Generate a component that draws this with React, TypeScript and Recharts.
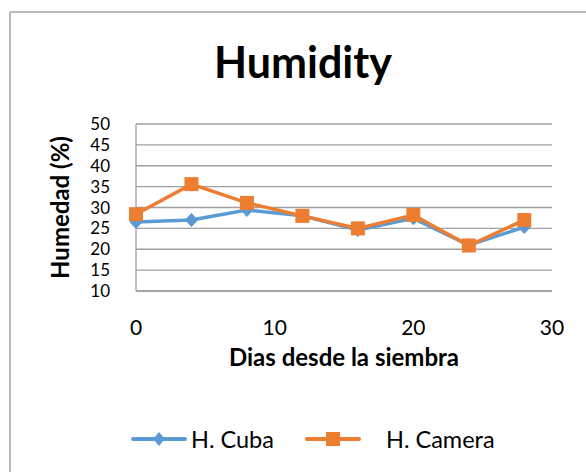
import React from 'react';
import { LineChart, Line, XAxis, YAxis, CartesianGrid, Legend } from 'recharts';

const days = [0, 4, 8, 12, 16, 20, 24, 28];
const cuba = [26.5, 27, 29.4, 28, 24.6, 27.4, 21, 25.3];
const camera = [28.4, 35.6, 31.1, 28, 25, 28.2, 20.9, 27];
const xTicks = [0, 10, 20, 30];
const yTicks = [10, 15, 20, 25, 30, 35, 40, 45, 50];
const seriesNames = ['H. Cuba', 'H. Camera'];
const title = 'Humidity';
const xTitle = 'Dias desde la siembra';
const yTitle = 'Humedad (%)';

const data = days.map((d, i) => ({ day: d, cuba: cuba[i], camera: camera[i] }));

const BLUE = '#5B9BD5';
const ORANGE = '#ED7D31';
const GRID = '#a0a0a0';
const FONT = 'Lato, "Open Sans", sans-serif';

const Diamond = (props: any) => {
  const { cx, cy } = props;
  if (cx == null || cy == null) return null;
  const r = 6.5;
  return <polygon points={`${cx},${cy - r} ${cx + r - 0.5},${cy} ${cx},${cy + r} ${cx - r + 0.5},${cy}`} fill={BLUE} stroke={BLUE} strokeWidth={1} />;
};

const Square = (props: any) => {
  const { cx, cy } = props;
  if (cx == null || cy == null) return null;
  const h = 7;
  return <rect x={cx - h} y={cy - h} width={2 * h} height={2 * h} fill={ORANGE} />;
};

const LegendContent = (props: any) => {
  const items = [...(props.payload || [])].sort(
    (a: any, b: any) => seriesNames.indexOf(a.value) - seriesNames.indexOf(b.value)
  );
  return (
    <div style={{ display: 'flex', alignItems: 'center', fontFamily: FONT, fontSize: 23.5, color: '#000' }}>
      {items.map((p: any, i: number) => {
        const isCuba = p.dataKey === 'cuba';
        return (
          <div key={i} style={{ display: 'flex', alignItems: 'center', marginLeft: i === 0 ? 0 : 31 }}>
            <svg width={56} height={20} style={{ display: 'block' }}>
              <line x1={2} y1={10} x2={54} y2={10} stroke={p.color} strokeWidth={4} strokeLinecap="round" />
              {isCuba ? (
                <polygon points="28,3 34,10 28,17 22,10" fill={p.color} />
              ) : (
                <rect x={21} y={3} width={14} height={14} fill={p.color} />
              )}
            </svg>
            <span style={{ marginLeft: isCuba ? 4 : 25, lineHeight: '24px' }}>{p.value}</span>
          </div>
        );
      })}
    </div>
  );
};

export default function App() {
  return (
    <div style={{ position: 'absolute', left: 0, top: 0, width: 586, height: 472, overflow: 'hidden', background: '#fff' }}>
      <svg width={586} height={472} style={{ position: 'absolute', left: 0, top: 0, pointerEvents: 'none' }}>
        <line x1={10} y1={12} x2={586} y2={12} stroke="#a6a6a6" strokeWidth={1.5} />
        <line x1={10} y1={12} x2={10} y2={472} stroke="#a6a6a6" strokeWidth={1.5} />
        <text x={303} y={78} textAnchor="middle" fontFamily={FONT} fontWeight="bold" fontSize={43} fill="#000">{title}</text>
      </svg>
      <div style={{ position: 'absolute', left: 0, top: 0 }}>
        <LineChart width={586} height={472} data={data} margin={{ top: 124, right: 34, bottom: 106, left: 0 }}>
          <CartesianGrid vertical={false} stroke={GRID} strokeWidth={1.3} />
          <XAxis
            dataKey="day"
            type="number"
            domain={[0, 30]}
            ticks={xTicks}
            interval={0}
            height={75}
            tickLine={false}
            tickSize={6}
            tickMargin={23}
            axisLine={{ stroke: GRID, strokeWidth: 1.3 }}
            tick={{ fill: '#000', fontSize: 21, fontFamily: FONT }}
            label={{ value: xTitle, position: 'insideBottom', offset: 0, fill: '#000', fontSize: 24, fontWeight: 'bold', fontFamily: FONT }}
          />
          <YAxis
            type="number"
            domain={[10, 50]}
            ticks={yTicks}
            interval={0}
            width={136}
            tickLine={false}
            tickSize={6}
            tickMargin={20}
            axisLine={{ stroke: GRID, strokeWidth: 1.3 }}
            tick={{ fill: '#000', fontSize: 17, fontFamily: FONT }}
            label={{ value: yTitle, angle: -90, position: 'insideLeft', offset: 60, fill: '#000', fontSize: 24, fontWeight: 'bold', fontFamily: FONT, style: { textAnchor: 'middle' } }}
          />
          <Legend
            layout="horizontal"
            verticalAlign="middle"
            align="center"
            content={<LegendContent />}
            wrapperStyle={{ left: 131, top: 427, width: 420, height: 24 }}
          />
          <Line dataKey="cuba" name={seriesNames[0]} stroke={BLUE} strokeWidth={3.5} dot={<Diamond />} activeDot={false} isAnimationActive={false} />
          <Line dataKey="camera" name={seriesNames[1]} stroke={ORANGE} strokeWidth={3.5} dot={<Square />} activeDot={false} isAnimationActive={false} />
        </LineChart>
      </div>
    </div>
  );
}
